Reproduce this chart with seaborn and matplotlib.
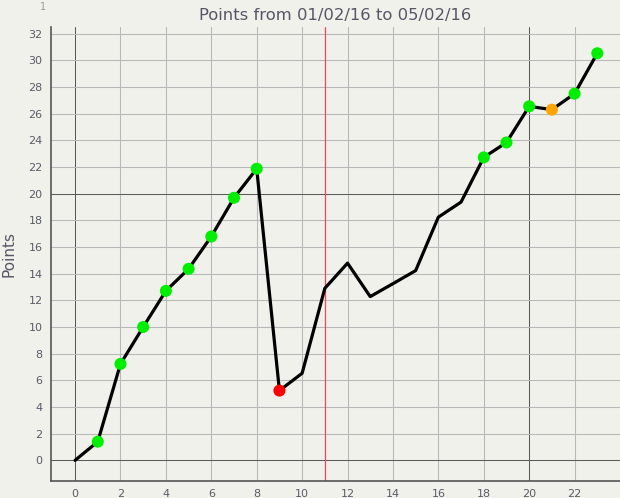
import numpy as np
import pandas as pd
import seaborn as sns
from matplotlib import pyplot as plt

x_vals = list(range(24))
y_vals = [0.0, 1.4, 7.23, 10.0, 12.71, 14.36, 16.79, 19.69, 21.87, 5.23, 6.53, 12.9,
          14.79, 12.28, 13.25, 14.23, 18.24, 19.37, 22.72, 23.84, 26.55, 26.3, 27.5, 30.53]
# status of each point: "" = no dot drawn
status = ["", "good", "good", "good", "good", "good", "good", "good", "good", "bad", "", "",
          "", "", "", "", "", "", "good", "good", "good", "warn", "good", "good"]
x_ticks = list(range(0, 23, 2))
y_ticks = list(range(0, 33, 2))
divider_x = 11
title = "Points from 01/02/16 to 05/02/16"

df = pd.DataFrame({"x": x_vals, "y": y_vals, "status": status})
dots = df[df["status"] != ""]

sns.set_style("white")
plt.rcParams['font.family'] = ['DejaVu Sans']

bg = "#f1f1ec"
fig = plt.figure(figsize=(6.2, 4.98), dpi=100, facecolor=bg)
ax = fig.add_axes([51 / 620, 17 / 498, 569 / 620, 454 / 498])
ax.set_facecolor(bg)

ax.set_xlim(-1.06, 24.0)
ax.set_ylim(-1.55, 32.5)
ax.set_xticks(x_ticks)
ax.set_yticks(y_ticks)
ax.grid(True, color="#b8b8b8", lw=0.75)
for g, t in zip(ax.get_xgridlines(), x_ticks):
    if t in (0, 20):
        g.set_color("#5a5a5a")
for g, t in zip(ax.get_ygridlines(), y_ticks):
    if t in (0, 20):
        g.set_color("#5a5a5a")
ax.set_axisbelow(True)

ax.axvline(divider_x, color="#ff4058", lw=0.9, zorder=1.5)

sns.lineplot(data=df, x="x", y="y", color="black", lw=2.3, ax=ax, zorder=3)
sns.scatterplot(data=dots, x="x", y="y", hue="status",
                palette={"good": "#00ee00", "bad": "#ff0000", "warn": "#ffa500"},
                s=75, linewidth=0, ax=ax, zorder=4, legend=False)

for side in ("top", "right"):
    ax.spines[side].set_visible(False)
for side in ("left", "bottom"):
    ax.spines[side].set_color("#555555")
    ax.spines[side].set_linewidth(1.2)
ax.tick_params(length=0, labelsize=8, labelcolor="#5a5a6a", pad=6)

ax.set_xlabel("")
ax.set_ylabel("Points", fontsize=11, color="#555566")
ax.yaxis.set_label_coords(-0.06, 0.5)
ax.set_title(title, fontsize=11.8, color="#555566", pad=5)
fig.text(43 / 620, 1 - 7 / 498, "1", fontsize=7, color="#999999", va="center", ha="center")

plt.savefig("out.png", facecolor=bg)
